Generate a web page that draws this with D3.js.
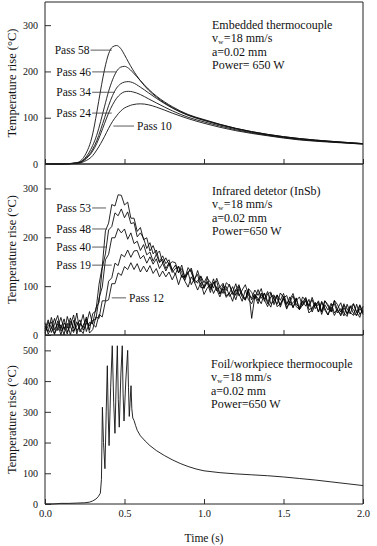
<!DOCTYPE html>
<html>
<head>
<meta charset="utf-8">
<script src="https://cdn.jsdelivr.net/npm/d3@7"></script>
<style>
body { margin:0; background:#fff; }
svg text { font-family:"Liberation Serif","DejaVu Serif",serif; fill:#111; }
.curve { fill:none; stroke:#111; stroke-width:0.9; }
.noisy { fill:none; stroke:#000; stroke-width:0.85; }
.spiky { fill:none; stroke:#111; stroke-width:0.9; }
.frame { stroke:#222; stroke-width:1; }
.leader { stroke:#333; stroke-width:0.8; }
</style>
</head>
<body>
<div class="container"></div>
<script>
// ---- data ------------------------------------------------------------------------

// panel 1: embedded thermocouple (smooth curves)
var times1 = [0, 0.1, 0.2, 0.25, 0.3, 0.325, 0.35, 0.375, 0.4, 0.425, 0.45, 0.475, 0.5, 0.525, 0.55, 0.6, 0.65, 0.7, 0.8, 0.9, 1.0, 1.2, 1.4, 1.6, 1.8, 2.0];
var pass58 = [0, 0, 3, 18, 65, 110, 160, 205, 238, 253, 256, 250, 236, 220, 205, 180, 160, 145, 122, 106, 95, 77, 64, 55, 49, 44];
var pass46 = [0, 0, 2, 12, 40, 62, 92, 125, 157, 182, 200, 209, 211, 207, 199, 180, 162, 147, 124, 107, 96, 77, 64, 55, 49, 44];
var pass34 = [0, 0, 2, 10, 32, 50, 74, 100, 126, 148, 164, 173, 177, 178, 176, 166, 154, 142, 121, 105, 94, 76, 63, 54, 48, 44];
var pass24 = [0, 0, 2, 9, 28, 44, 65, 88, 110, 128, 142, 151, 156, 157, 156, 150, 141, 132, 115, 101, 91, 74, 62, 53, 48, 43];
var pass10 = [0, 0, 1, 6, 18, 30, 44, 60, 77, 92, 104, 114, 121, 125, 128, 130, 128, 123, 110, 98, 88, 72, 61, 52, 47, 43];
var labels1 = ["Pass 58", "Pass 46", "Pass 34", "Pass 24", "Pass 10"];

// panel 2: infrared detector, one reading every 0.02 s
var step2 = 0.02;
var pass53 = [12, 31, 5, 22, 40, 8, 17, 2, 28, 14, 45, 6, 20, 33, 10,
	44, 49, 104, 140, 213, 229, 267, 264, 287, 286, 266, 272, 239, 239, 212, 220, 195, 199, 172, 183, 165, 172, 147, 158, 144, 150,
	148, 128, 136, 117, 138, 128, 111, 132, 110, 99, 116, 108, 96, 116, 98, 85, 107, 101, 87, 105, 80, 92, 103, 81, 76, 92, 81, 95, 69, 84,
	88, 62, 82, 71, 85, 64, 73, 85, 63, 56, 78, 70, 58, 77, 59, 70, 48, 70, 59, 48, 71, 62, 47, 64, 42, 56, 64, 46, 62, 47];
var pass48 = [4, 19, 27, 3, 15, 36, 11, 24, 0, 30, 9, 18, 42, 7, 26,
	23, 55, 67, 137, 166, 215, 222, 250, 244, 258, 240, 252, 228, 230, 201, 209, 198, 177, 189, 166, 174, 150, 162, 146, 154, 133,
	143, 127, 143, 117, 127, 137, 113, 106, 121, 107, 120, 93, 107, 110, 84, 103, 91, 104, 83, 92, 103, 81, 73, 95, 87, 74, 93, 75, 86, 64,
	86, 74, 63, 86, 77, 62, 78, 56, 70, 78, 60, 75, 60, 72, 54, 64, 47, 70, 62, 47, 70, 50, 42, 61, 54, 43, 64, 47, 36, 59];
var pass40 = [25, 2, 14, 34, 9, 21, 0, 38, 16, 5, 27, 12, 3, 29, 19,
	30, 32, 76, 98, 154, 165, 199, 199, 218, 209, 217, 196, 209, 187, 192, 173, 185, 164, 170, 151, 165, 148, 155, 136, 148, 133,
	124, 141, 128, 112, 130, 133, 107, 111, 119, 95, 110, 96, 115, 90, 98, 106, 80, 86, 99, 81, 100, 84, 73, 89, 72, 84, 70, 86, 74, 89,
	64, 69, 82, 57, 75, 81, 61, 66, 75, 52, 67, 77, 52, 55, 67, 47, 69, 55, 41, 61, 64, 45, 54, 39, 63, 46, 40, 63, 42, 51];
var pass19 = [8, 26, 16, 1, 29, 13, 33, 6, 20, 41, 2, 24, 15, 37, 4,
	11, 37, 34, 70, 70, 110, 117, 147, 142, 165, 160, 174, 159, 172, 173, 156, 163, 147, 160, 145, 156, 136, 147, 131, 145, 128,
	136, 140, 118, 121, 128, 103, 116, 124, 97, 97, 108, 87, 108, 93, 78, 97, 99, 79, 88, 72, 95, 78, 71, 94, 34, 80, 64, 83, 72, 58,
	78, 82, 58, 64, 74, 53, 69, 56, 76, 52, 61, 70, 45, 52, 65, 47, 67, 51, 41, 57, 40, 53, 39, 56, 44, 59, 44, 40, 54, 45];
var pass12 = [18, 7, 36, 11, 23, 0, 25, 14, 35, 8, 19, 31, 10, 22, 48,
	22, 16, 42, 37, 69, 72, 105, 105, 127, 122, 140, 134, 148, 134, 146, 129, 141, 129, 142, 126, 136, 119, 131, 119, 129, 113,
	126, 103, 123, 110, 98, 119, 108, 92, 107, 83, 96, 104, 85, 99, 84, 95, 77, 86, 69, 93, 84, 69, 92, 72, 64, 82, 75, 64, 86, 69,
	57, 80, 75, 61, 79, 56, 68, 80, 58, 53, 70, 59, 73, 47, 62, 67, 42, 62, 51, 65, 45, 54, 66, 45, 38, 60, 52, 40, 60, 42];
var labels2 = ["Pass 53", "Pass 48", "Pass 40", "Pass 19", "Pass 12"];

// panel 3: foil/workpiece thermocouple
var times3 = [0, 0.05, 0.1, 0.15, 0.2, 0.25, 0.28, 0.3, 0.32, 0.335, 0.348, 0.355, 0.361, 0.368, 0.377, 0.385, 0.392, 0.398, 0.403, 0.413,
	0.423, 0.432, 0.44, 0.448, 0.455, 0.461, 0.467, 0.477, 0.486, 0.491, 0.497, 0.508, 0.52, 0.525, 0.53, 0.535, 0.541, 0.546, 0.552,
	0.56, 0.57, 0.58, 0.6, 0.63, 0.66, 0.7, 0.75, 0.8, 0.85, 0.9, 0.95, 1.0, 1.1, 1.2, 1.3, 1.4, 1.5, 1.6, 1.7, 1.8, 1.9, 2.0];
var foil = [0, 0, 2, 2, 3, 4, 6, 10, 16, 24, 35, 80, 315, 200, 115, 300, 450, 280, 190, 380,
	515, 330, 230, 400, 515, 340, 250, 420, 515, 360, 270, 400, 500, 380, 285, 330, 385, 310, 280,
	272, 255, 240, 222, 205, 190, 174, 158, 144, 132, 122, 114, 108, 102, 98, 95, 92, 88, 83, 78, 72, 66, 60];

var xTicks = [0, 0.5, 1.0, 1.5, 2.0];
var yTicks12 = [0, 100, 200, 300];
var yTicks3 = [0, 100, 200, 300, 400, 500];
var notes1 = ["Embedded thermocouple", "=18 mm/s", "a=0.02 mm", "Power= 650 W"];
var notes2 = ["Infrared detetor (InSb)", "=18 mm/s", "a=0.02 mm", "Power=650 W"];
var notes3 = ["Foil/workpiece thermocouple", "=18 mm/s", "a=0.02 mm", "Power=650 W"];

// ---- helpers ---------------------------------------------------------------------

var FONT = '"Liberation Serif","DejaVu Serif",serif';
var xScale = d3.scaleLinear().domain([0, 2]).range([45, 363]);

var makeY = function(max, bottom, top) {
	return d3.scaleLinear().domain([0, max]).range([bottom, top]);
}

var drawFrame = function(svg, y, ticks, showX) {
	var g = svg.append('g');
	var top = y.range()[1], bottom = y.range()[0];
	var yAxis = d3.axisLeft(y).tickValues(ticks).tickSize(-6).tickSizeOuter(0).tickPadding(7);
	var ya = g.append('g').attr('transform', 'translate(45,0)').call(yAxis);
	ya.select('.domain').remove();
	ya.selectAll('text').attr('font-family', FONT).attr('font-size', 10);
	ya.selectAll('line').attr('stroke', '#333');

	var xAxis = d3.axisBottom(xScale).tickValues(xTicks).tickSize(-5).tickSizeOuter(0).tickPadding(6)
		.tickFormat(d3.format('.1f'));
	var xa = g.append('g').attr('transform', 'translate(0,' + bottom + ')').call(xAxis);
	xa.select('.domain').remove();
	xa.selectAll('line').attr('stroke', '#333');
	xa.selectAll('text').attr('font-family', FONT).attr('font-size', 10.5);
	if (!showX) xa.selectAll('text').remove();

	g.append('line').attr('class', 'frame').attr('x1', 45).attr('x2', 363).attr('y1', top).attr('y2', top);
	g.append('line').attr('class', 'frame').attr('x1', 45).attr('x2', 363).attr('y1', bottom).attr('y2', bottom);
	g.append('line').attr('class', 'frame').attr('x1', 45).attr('x2', 45).attr('y1', top).attr('y2', bottom);
	g.append('line').attr('class', 'frame').attr('x1', 363).attr('x2', 363).attr('y1', top).attr('y2', bottom);

	svg.append('text')
		.attr('transform', 'translate(16,' + ((top + bottom) / 2) + ') rotate(-90)')
		.attr('text-anchor', 'middle').attr('font-size', 12.5)
		.text('Temperature rise (\u00b0C)');
}

var drawNotes = function(svg, notes, x, y0) {
	var rows = [0, 13, 27, 40];
	notes.forEach(function(n, i) {
		var yy = y0 + rows[i];
		if (i == 1) {
			// v with subscript w, as separate pieces so nothing overlaps
			var v = svg.append('text').attr('x', x).attr('y', yy).attr('font-size', 12).text('v');
			var w1 = v.node().getComputedTextLength();
			var sub = svg.append('text').attr('x', x + w1 + 0.3).attr('y', yy + 1.5).attr('font-size', 7).text('w');
			var w2 = sub.node().getComputedTextLength();
			svg.append('text').attr('x', x + w1 + w2 + 0.8).attr('y', yy).attr('font-size', 12).text(n);
		} else {
			svg.append('text').attr('x', x).attr('y', yy).attr('font-size', 12).text(n);
		}
	});
}

// each label: text, level (data units), leader start / end (time)
var drawPassLabels = function(svg, y, items) {
	items.forEach(function(d) {
		var yy = y(d.v);
		if (d.right) {
			svg.append('line').attr('class', 'leader')
				.attr('x1', xScale(d.t0)).attr('x2', xScale(d.t1)).attr('y1', yy).attr('y2', yy);
			svg.append('text').attr('x', xScale(d.t1) + 3).attr('y', yy + 4).attr('font-size', 11.5).text(d.text);
		} else {
			svg.append('text').attr('x', xScale(d.t0)).attr('y', yy + 4).attr('text-anchor', 'end')
				.attr('font-size', 11.5).text(d.text);
			svg.append('line').attr('class', 'leader')
				.attr('x1', xScale(d.t0) + 1).attr('x2', xScale(d.t1)).attr('y1', yy).attr('y2', yy);
		}
	});
}

// ---- chart -----------------------------------------------------------------------

var svg = d3.select('.container').append('svg').attr('width', 377).attr('height', 546);

var y1 = makeY(350, 164, 2);
var y2 = makeY(350, 335, 164);
var y3 = makeY(550, 504, 335);

var smooth = d3.line().curve(d3.curveMonotoneX)
	.x(function(d) { return xScale(d[0]); })
	.y(function(d) { return y1(d[1]); });

[pass58, pass46, pass34, pass24, pass10].forEach(function(s) {
	svg.append('path').attr('class', 'curve')
		.datum(times1.map(function(t, i) { return [t, s[i]]; }))
		.attr('d', smooth);
});

var noisy = d3.line()
	.x(function(d, i) { return xScale(i * step2); })
	.y(function(d) { return y2(d); });

[pass12, pass19, pass40, pass48, pass53].forEach(function(s) {
	svg.append('path').attr('class', 'noisy').datum(s).attr('d', noisy);
});

var spiky = d3.line()
	.x(function(d) { return xScale(d[0]); })
	.y(function(d) { return y3(d[1]); });

svg.append('path').attr('class', 'spiky')
	.datum(times3.map(function(t, i) { return [t, foil[i]]; }))
	.attr('d', spiky);

drawFrame(svg, y1, yTicks12, false);
drawFrame(svg, y2, yTicks12, false);
drawFrame(svg, y3, yTicks3, true);

drawNotes(svg, notes1, 212, 29);
drawNotes(svg, notes2, 212, 195);
drawNotes(svg, notes3, 211, 368);

drawPassLabels(svg, y1, [
	{text: labels1[0], v: 246, t0: 0.28, t1: 0.42},
	{text: labels1[1], v: 199, t0: 0.29, t1: 0.45},
	{text: labels1[2], v: 155, t0: 0.29, t1: 0.44},
	{text: labels1[3], v: 110, t0: 0.29, t1: 0.42},
	{text: labels1[4], v: 82, t0: 0.43, t1: 0.56, right: true}
]);

drawPassLabels(svg, y2, [
	{text: labels2[0], v: 260, t0: 0.29, t1: 0.384},
	{text: labels2[1], v: 217, t0: 0.29, t1: 0.39},
	{text: labels2[2], v: 180, t0: 0.29, t1: 0.39},
	{text: labels2[3], v: 143, t0: 0.29, t1: 0.42},
	{text: labels2[4], v: 76, t0: 0.42, t1: 0.51, right: true}
]);

svg.append('text').attr('x', xScale(1.0)).attr('y', 542).attr('text-anchor', 'middle')
	.attr('font-size', 11.5).text('Time (s)');
</script>
</body>
</html>
